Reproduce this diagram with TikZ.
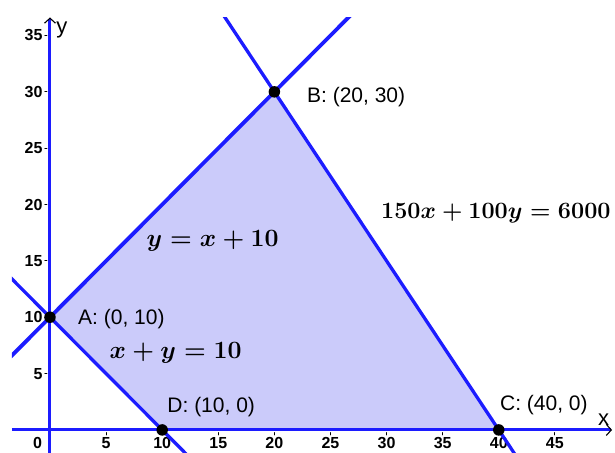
\documentclass[tikz,border=0pt]{standalone}
\usepackage{amsmath}
\usepackage{fontspec}
\setsansfont{Liberation Sans}
\usetikzlibrary{arrows.meta}
\definecolor{lpBlue}{HTML}{1C1CFF}
\definecolor{lpFill}{HTML}{CBCBFA}
\definecolor{lpInk}{HTML}{000000}
\tikzset{
 lp/.style={line cap=round,line join=round,font=\sffamily,text=lpInk},
 axis/.style={draw=lpBlue,line width=3pt,line cap=butt,
   -{Straight Barb[color=lpInk,length=5pt,width=11pt,line width=1.1pt]}},
 constraint/.style={draw=lpBlue,line width=3.3pt},
 region/.style={fill=lpFill},
 vertex/.style={circle,fill=lpInk,inner sep=0pt,minimum size=11.5pt},
 vlabel/.style={font=\fontsize{21}{24}\sffamily\selectfont,anchor=west,inner sep=0pt},
 eqlabel/.style={font=\fontsize{25}{28}\selectfont\boldmath,inner sep=0pt},
 ticklabel/.style={font=\fontsize{16}{18}\sffamily\bfseries\selectfont,inner sep=0pt},
 tickmark/.style={draw=lpInk,line width=1pt}
}

\begin{document}
\begin{tikzpicture}[lp,x=11.22pt,y=11.27pt]
 \useasboundingbox (-4.456,-2.041) rectangle (50.36,38.15);
 % feasible region
 \coordinate (A) at (0,10);
 \coordinate (B) at (20,30);
 \coordinate (C) at (40,0);
 \coordinate (D) at (10,0);
 \fill[region] (A)--(B)--(C)--(D)--cycle;
 % ticks and tick labels
 \foreach \t in {5,10,...,45} {
   \draw[tickmark] (\t,-0.25)--(\t,-0.45);
   \node[ticklabel] at (\t,-1.15) {\t};
 }
 \foreach \t in {5,10,...,35} {
   \draw[tickmark] (-0.27,\t)--(-0.45,\t);
   \node[ticklabel,anchor=east] at (-0.65,\t) {\t};
 }
 \node[ticklabel] at (-1.1,-1.15) {0};
 % axes
 \coordinate (xmin) at (-3.39,0);
 \coordinate (xmax) at (50.1,0);
 \coordinate (ymin) at (0,-2.1);
 \coordinate (ymax) at (0,36.6);
 \draw[axis] (xmin)--(xmax);
 \draw[axis] (ymin)--(ymax);
 \node[font=\fontsize{22}{24}\sffamily\selectfont] (xlab) at (49.35,0.95) {x};
 \node[font=\fontsize{22}{24}\sffamily\selectfont] (ylab) at (1.05,35.5) {y};
 % constraint lines
 \begin{scope}
 \clip (-3.39,-2.1) rectangle (50.36,36.6);
 \draw[constraint,line width=3.8pt] (-14,-4)--(30,40);
 \draw[constraint] (-10,20)--(14,-4);
 \draw[constraint] (12,42)--(44,-6);
 \end{scope}
 % vertices
 \node[vertex] (vA) at (A) {};
 \node[vertex] (vB) at (B) {};
 \node[vertex] (vC) at (C) {};
 \node[vertex] (vD) at (D) {};
 \node[vlabel] (lA) at (2.5,9.8) {A: (0, 10)};
 \node[vlabel] (lB) at (22.9,29.5) {B: (20, 30)};
 \node[vlabel] (lC) at (40.1,2.25) {C: (40, 0)};
 \node[vlabel] (lD) at (10.45,2.05) {D: (10, 0)};
 % equations
 \node[eqlabel] (e1) at (14.5,16.75) {$y = x + 10$};
 \node[eqlabel] (e2) at (11.2,6.85) {$x + y = 10$};
 \node[eqlabel,anchor=west] (e3) at (29.5,19.25) {\scalebox{0.94}{$150x + 100y = 6000$}};
\end{tikzpicture}
\end{document}
